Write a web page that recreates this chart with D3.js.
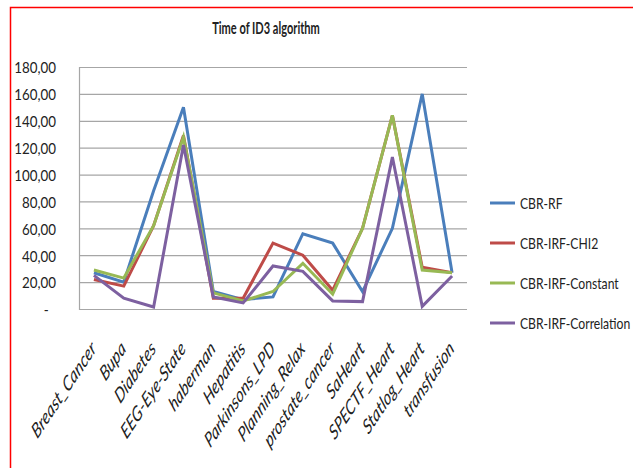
<!DOCTYPE html>
<html>
<head>
<meta charset="utf-8">
<script src="https://cdn.jsdelivr.net/npm/d3@7"></script>
<style>
  html, body { margin: 0; padding: 0; background: #fff; }
  svg { display: block; }
</style>
</head>
<body>
<svg id="chart" width="633" height="468"></svg>
<script>
// Datasets on the x axis
const categories = ["Breast_Cancer", "Bupa", "Diabetes", "EEG-Eye-State", "haberman", "Hepatitis",
  "Parkinsons_LPD", "Planning_Relax", "prostate_cancer", "SaHeart", "SPECTF_Heart", "Statlog_Heart", "transfusion"];

// Run time of ID3 for each method
const cbrRF          = [27, 20, 88, 150, 13, 7, 9, 56, 49, 13, 60, 160, 27];
const cbrIrfChi2     = [22, 17, 62, 129, 8, 8, 49, 40, 14, 60, 144, 31, 27];
const cbrIrfConstant = [29, 23, 62, 128, 12, 6, 13, 34, 11, 60, 144, 29, 27];
const cbrIrfCorr     = [25, 8, 1.5, 122, 9, 4.5, 32, 28, 6, 5.5, 113, 2, 24.5];

const seriesNames  = ["CBR-RF", "CBR-IRF-CHI2", "CBR-IRF-Constant", "CBR-IRF-Correlation"];
const seriesColors = ["#4a7ebb", "#be4b48", "#98b954", "#7d60a0"];
const seriesValues = [cbrRF, cbrIrfChi2, cbrIrfConstant, cbrIrfCorr];

const yTicks = [0, 20, 40, 60, 80, 100, 120, 140, 160, 180];
const fmt = v => v === 0 ? "-" : v.toFixed(2).replace(".", ",");

const FONT = "Lato, sans-serif";
const svg = d3.select("#chart");

// Frame around the chart
svg.append("path")
  .attr("d", "M10.5,470 V7.5 H640")
  .attr("fill", "none").attr("stroke", "#ff0000").attr("stroke-width", 1.5);

const plot = { left: 79, right: 467, top: 67, bottom: 309 };

const x = d3.scaleBand().domain(categories).range([plot.left, plot.right]);
const y = d3.scaleLinear().domain([0, 180]).range([plot.bottom, plot.top]);
const cx = c => x(c) + x.bandwidth() / 2;

// Title (narrow, tall lettering)
svg.append("text")
  .attr("transform", "translate(266,34) scale(0.67,1)")
  .attr("text-anchor", "middle")
  .attr("font-family", FONT).attr("font-weight", "bold")
  .attr("font-size", 16.5).attr("fill", "#222")
  .text("Time of ID3 algorithm");

// Horizontal gridlines
svg.append("g").selectAll("line")
  .data(yTicks.filter(t => t > 0))
  .join("line")
  .attr("x1", plot.left).attr("x2", plot.right)
  .attr("y1", d => y(d) + 0.5).attr("y2", d => y(d) + 0.5)
  .attr("stroke", "#a6a6a6").attr("stroke-width", 1.2);

// Plot area border (left and bottom axis lines)
svg.append("path")
  .attr("d", `M${plot.left + 0.5},${y(180)} V${plot.bottom + 0.5} H${plot.right}`)
  .attr("fill", "none").attr("stroke", "#a6a6a6").attr("stroke-width", 1.2);

// Y axis labels
const yAxis = d3.axisLeft(y).tickValues(yTicks).tickFormat(fmt).tickSize(0).tickPadding(0);
const gy = svg.append("g").attr("transform", "translate(56,0)").call(yAxis);
gy.select(".domain").remove();
gy.selectAll("text")
  .attr("x", d => d === 0 ? -8 : 0)
  .attr("dy", "0.4em")
  .attr("transform", "scale(0.92,1)")
  .attr("font-family", FONT).attr("font-size", 14.5).attr("fill", "#222");

// X axis labels, rotated and stretched
const xAxis = d3.axisBottom(x).tickSize(0).tickPadding(0);
const gx = svg.append("g").attr("transform", `translate(0,${plot.bottom})`).call(xAxis);
gx.select(".domain").remove();
gx.selectAll("text")
  .attr("font-family", FONT).attr("font-style", "italic")
  .attr("font-size", 14).attr("fill", "#222")
  .attr("text-anchor", "end")
  .attr("dy", 0).attr("y", 0)
  .attr("transform", "translate(3,41) scale(1,1.5) rotate(-45)");

// Series lines
const line = d3.line()
  .x((d, i) => cx(categories[i]))
  .y(d => y(d));

svg.append("g").selectAll("path")
  .data(seriesValues)
  .join("path")
  .attr("d", d => line(d))
  .attr("fill", "none")
  .attr("stroke", (d, i) => seriesColors[i])
  .attr("stroke-width", 3)
  .attr("stroke-linejoin", "miter");

// Legend
const legend = svg.append("g").selectAll("g")
  .data(seriesNames)
  .join("g")
  .attr("transform", (d, i) => `translate(490,${203 + i * 40})`);
legend.append("line")
  .attr("x1", 0).attr("x2", 25).attr("y1", 0).attr("y2", 0)
  .attr("stroke", (d, i) => seriesColors[i]).attr("stroke-width", 3);
legend.append("text")
  .attr("transform", "translate(30,6) scale(0.76,1)")
  .attr("font-family", FONT).attr("font-size", 16).attr("fill", "#222")
  .text(d => d);
</script>
</body>
</html>
